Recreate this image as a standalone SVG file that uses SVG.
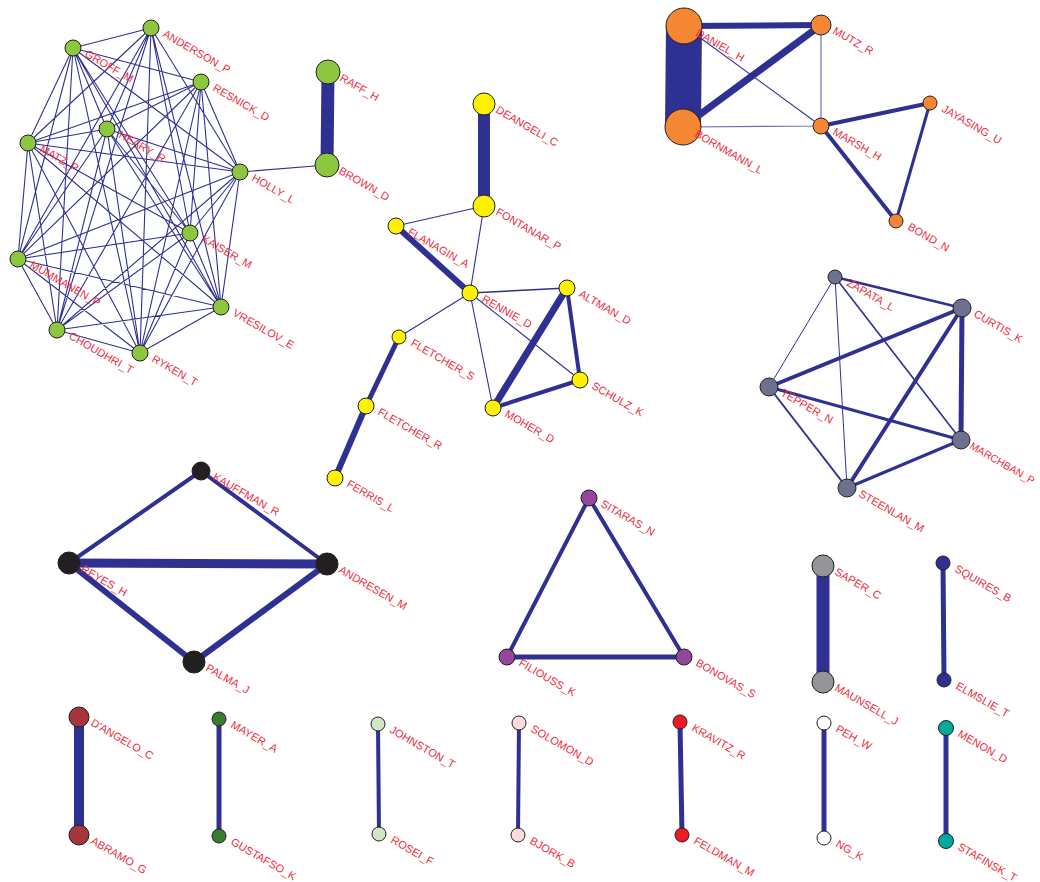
<svg xmlns="http://www.w3.org/2000/svg" width="1040" height="882" viewBox="0 0 1040 882">
<style>
.e{stroke:#2e3192;fill:none;stroke-linecap:butt}
.n{stroke:#231f20;stroke-width:1}
.t{font-family:"Liberation Sans",Arial,sans-serif;font-size:11px;fill:#ee2a3a}
.gr{fill:#8dc63f}.ye{fill:#fff200}.or{fill:#f58634}.gp{fill:#6e7090}.bk{fill:#231f20}.pu{fill:#92479b}
.gy{fill:#939598}.db{fill:#2e3192}.dr{fill:#a6353b}.dg{fill:#3a7d32}.lg{fill:#d0e6c6}.lp{fill:#fadcdc}
.rd{fill:#ed1c24}.wh{fill:#ffffff}.te{fill:#00a99d}
</style>
<rect width="1040" height="882" fill="#ffffff"/>
<g id="connectors">
<path class="e" stroke-width="1.1" d="M151 28L73 48M151 28L107 129M151 28L28 143M151 28L240 172M151 28L190 233M151 28L18 259M151 28L221 307M151 28L57 330M151 28L140 353M73 48L201 82M73 48L107 129M73 48L28 143M73 48L240 172M73 48L190 233M73 48L18 259M73 48L221 307M73 48L57 330M73 48L140 353M201 82L107 129M201 82L28 143M201 82L240 172M201 82L190 233M201 82L18 259M201 82L221 307M201 82L57 330M201 82L140 353M107 129L28 143M107 129L240 172M107 129L190 233M107 129L18 259M107 129L221 307M107 129L57 330M107 129L140 353M28 143L240 172M28 143L190 233M28 143L18 259M28 143L221 307M28 143L57 330M28 143L140 353M240 172L190 233M240 172L18 259M240 172L221 307M240 172L57 330M240 172L140 353M190 233L18 259M190 233L221 307M190 233L57 330M190 233L140 353M18 259L221 307M18 259L57 330M18 259L140 353M221 307L57 330M221 307L140 353M57 330L140 353"/>
<path class="e" stroke-width="1.1" d="M240 172L327 165"/>
<path class="e" stroke-width="13" d="M328 72L327 165"/>
<path class="e" stroke-width="12" d="M484 104L484 206"/>
<path class="e" stroke-width="1.1" d="M484 206L396 226M484 206L470 293M470 293L399 337M470 293L580 380M470 293L493 408"/>
<path class="e" stroke-width="1.6" d="M470 293L567 288"/>
<path class="e" stroke-width="6" d="M396 226L470 293"/>
<path class="e" stroke-width="7" d="M567 288L493 408"/>
<path class="e" stroke-width="4" d="M567 288L580 380M580 380L493 408"/>
<path class="e" stroke-width="5" d="M399 337L366 406"/>
<path class="e" stroke-width="6" d="M366 406L335 478"/>
<path class="e" stroke-width="36" d="M684 26L683 127"/>
<path class="e" stroke-width="6" d="M684 26L821 25"/>
<path class="e" stroke-width="7" d="M683 127L821 25"/>
<path class="e" stroke-width="1.1" d="M684 26L821 126"/>
<path class="e" stroke-width="1.2" stroke-opacity="0.7" d="M683 127L821 126M821 25L821 126"/>
<path class="e" stroke-width="4" d="M821 126L930 103M821 126L896 221"/>
<path class="e" stroke-width="3" d="M930 103L896 221"/>
<path class="e" stroke-width="2.5" d="M835 277L962 308"/>
<path class="e" stroke-width="1" d="M835 277L769 387M835 277L847 488"/>
<path class="e" stroke-width="1.6" d="M835 277L961 440"/>
<path class="e" stroke-width="4" d="M962 308L769 387M962 308L847 488"/>
<path class="e" stroke-width="5" d="M962 308L961 440"/>
<path class="e" stroke-width="3" d="M769 387L961 440M847 488L961 440"/>
<path class="e" stroke-width="2" d="M769 387L847 488"/>
<path class="e" stroke-width="9" d="M69 563L327 564"/>
<path class="e" stroke-width="4" d="M69 563L201 471M201 471L327 564"/>
<path class="e" stroke-width="6" d="M69 563L194 662M194 662L327 564"/>
<path class="e" stroke-width="4" d="M589 498L507 657M589 498L684 657"/>
<path class="e" stroke-width="5" d="M507 657L684 657"/>
<path class="e" stroke-width="13" d="M823 566L823 682"/>
<path class="e" stroke-width="5" d="M943 563L944 680"/>
<path class="e" stroke-width="10" d="M79 717L79 835"/>
<path class="e" stroke-width="5" d="M219 719L219 836"/>
<path class="e" stroke-width="4" d="M378 724L379 834"/>
<path class="e" stroke-width="4" d="M519 723L518 835"/>
<path class="e" stroke-width="5" d="M680 722L682 835"/>
<path class="e" stroke-width="5" d="M824 723L824 838"/>
<path class="e" stroke-width="5" d="M946 728L946 841"/>
</g>
<g id="n-anderson"><circle class="n gr" cx="151" cy="28" r="8"/><text class="t" transform="translate(162 36) rotate(30)">ANDERSON_P</text></g>
<g id="n-groff"><circle class="n gr" cx="73" cy="48" r="8"/><text class="t" transform="translate(84 56) rotate(30)">GROFF_M</text></g>
<g id="n-resnick"><circle class="n gr" cx="201" cy="82" r="8"/><text class="t" transform="translate(212 90) rotate(30)">RESNICK_D</text></g>
<g id="n-heary"><circle class="n gr" cx="107" cy="129" r="8"/><text class="t" transform="translate(118 137) rotate(30)">HEARY_R</text></g>
<g id="n-matz"><circle class="n gr" cx="28" cy="143" r="8"/><text class="t" transform="translate(39 151) rotate(30)">MATZ_P</text></g>
<g id="n-holly"><circle class="n gr" cx="240" cy="172" r="8"/><text class="t" transform="translate(251 180) rotate(30)">HOLLY_L</text></g>
<g id="n-kaiser"><circle class="n gr" cx="190" cy="233" r="8"/><text class="t" transform="translate(201 241) rotate(30)">KAISER_M</text></g>
<g id="n-mummanen"><circle class="n gr" cx="18" cy="259" r="8"/><text class="t" transform="translate(29 267) rotate(30)">MUMMANEN_P</text></g>
<g id="n-vresilov"><circle class="n gr" cx="221" cy="307" r="8"/><text class="t" transform="translate(232 315) rotate(30)">VRESILOV_E</text></g>
<g id="n-choudhri"><circle class="n gr" cx="57" cy="330" r="8"/><text class="t" transform="translate(68 338) rotate(30)">CHOUDHRI_T</text></g>
<g id="n-ryken"><circle class="n gr" cx="140" cy="353" r="8"/><text class="t" transform="translate(151 361) rotate(30)">RYKEN_T</text></g>
<g id="n-raff"><circle class="n gr" cx="328" cy="72" r="12"/><text class="t" transform="translate(339 80) rotate(30)">RAFF_H</text></g>
<g id="n-brown"><circle class="n gr" cx="327" cy="165" r="12"/><text class="t" transform="translate(338 173) rotate(30)">BROWN_D</text></g>
<g id="n-deangeli"><circle class="n ye" cx="484" cy="104" r="11"/><text class="t" transform="translate(495 112) rotate(30)">DEANGELI_C</text></g>
<g id="n-fontanar"><circle class="n ye" cx="484" cy="206" r="11"/><text class="t" transform="translate(495 214) rotate(30)">FONTANAR_P</text></g>
<g id="n-flanagin"><circle class="n ye" cx="396" cy="226" r="8"/><text class="t" transform="translate(407 234) rotate(30)">FLANAGIN_A</text></g>
<g id="n-rennie"><circle class="n ye" cx="470" cy="293" r="8"/><text class="t" transform="translate(481 301) rotate(30)">RENNIE_D</text></g>
<g id="n-altman"><circle class="n ye" cx="567" cy="288" r="8"/><text class="t" transform="translate(578 296) rotate(30)">ALTMAN_D</text></g>
<g id="n-fletcher-s"><circle class="n ye" cx="399" cy="337" r="7"/><text class="t" transform="translate(410 345) rotate(30)">FLETCHER_S</text></g>
<g id="n-schulz"><circle class="n ye" cx="580" cy="380" r="8"/><text class="t" transform="translate(591 388) rotate(30)">SCHULZ_K</text></g>
<g id="n-moher"><circle class="n ye" cx="493" cy="408" r="8"/><text class="t" transform="translate(504 416) rotate(30)">MOHER_D</text></g>
<g id="n-fletcher-r"><circle class="n ye" cx="366" cy="406" r="8"/><text class="t" transform="translate(377 414) rotate(30)">FLETCHER_R</text></g>
<g id="n-ferris"><circle class="n ye" cx="335" cy="478" r="8"/><text class="t" transform="translate(346 486) rotate(30)">FERRIS_L</text></g>
<g id="n-daniel"><circle class="n or" cx="684" cy="26" r="18"/><text class="t" transform="translate(695 35) rotate(30)">DANIEL_H</text></g>
<g id="n-bornmann"><circle class="n or" cx="683" cy="127" r="18"/><text class="t" transform="translate(694 136) rotate(30)">BORNMANN_L</text></g>
<g id="n-mutz"><circle class="n or" cx="821" cy="25" r="10"/><text class="t" transform="translate(832 33) rotate(30)">MUTZ_R</text></g>
<g id="n-marsh"><circle class="n or" cx="821" cy="126" r="8"/><text class="t" transform="translate(832 134) rotate(30)">MARSH_H</text></g>
<g id="n-jayasing"><circle class="n or" cx="930" cy="103" r="7"/><text class="t" transform="translate(941 111) rotate(30)">JAYASING_U</text></g>
<g id="n-bond"><circle class="n or" cx="896" cy="221" r="7"/><text class="t" transform="translate(907 229) rotate(30)">BOND_N</text></g>
<g id="n-zapata"><circle class="n gp" cx="835" cy="277" r="7"/><text class="t" transform="translate(846 285) rotate(30)">ZAPATA_L</text></g>
<g id="n-curtis"><circle class="n gp" cx="962" cy="308" r="9"/><text class="t" transform="translate(973 316) rotate(30)">CURTIS_K</text></g>
<g id="n-tepper"><circle class="n gp" cx="769" cy="387" r="9"/><text class="t" transform="translate(780 395) rotate(30)">TEPPER_N</text></g>
<g id="n-marchban"><circle class="n gp" cx="961" cy="440" r="9"/><text class="t" font-size="10.5" style="font-size:10.5px" transform="translate(969 448) rotate(30)">MARCHBAN_P</text></g>
<g id="n-steenlan"><circle class="n gp" cx="847" cy="488" r="9"/><text class="t" transform="translate(858 496) rotate(30)">STEENLAN_M</text></g>
<g id="n-kauffman"><circle class="n bk" cx="201" cy="471" r="9"/><text class="t" transform="translate(212 479) rotate(30)">KAUFFMAN_R</text></g>
<g id="n-reyes"><circle class="n bk" cx="69" cy="563" r="11"/><text class="t" transform="translate(80 571) rotate(30)">REYES_H</text></g>
<g id="n-andresen"><circle class="n bk" cx="327" cy="564" r="11"/><text class="t" transform="translate(338 572) rotate(30)">ANDRESEN_M</text></g>
<g id="n-palma"><circle class="n bk" cx="194" cy="662" r="11"/><text class="t" transform="translate(205 670) rotate(30)">PALMA_J</text></g>
<g id="n-sitaras"><circle class="n pu" cx="589" cy="498" r="8"/><text class="t" transform="translate(600 506) rotate(30)">SITARAS_N</text></g>
<g id="n-filiouss"><circle class="n pu" cx="507" cy="657" r="8"/><text class="t" transform="translate(518 665) rotate(30)">FILIOUSS_K</text></g>
<g id="n-bonovas"><circle class="n pu" cx="684" cy="657" r="8"/><text class="t" transform="translate(695 665) rotate(30)">BONOVAS_S</text></g>
<g id="n-saper"><circle class="n gy" cx="823" cy="566" r="11"/><text class="t" transform="translate(834 574) rotate(30)">SAPER_C</text></g>
<g id="n-maunsell"><circle class="n gy" cx="823" cy="682" r="11"/><text class="t" transform="translate(834 690) rotate(30)">MAUNSELL_J</text></g>
<g id="n-squires"><circle class="n db" cx="943" cy="563" r="7"/><text class="t" transform="translate(954 571) rotate(30)">SQUIRES_B</text></g>
<g id="n-elmslie"><circle class="n db" cx="944" cy="680" r="7"/><text class="t" transform="translate(955 688) rotate(30)">ELMSLIE_T</text></g>
<g id="n-dangelo"><circle class="n dr" cx="79" cy="717" r="10"/><text class="t" transform="translate(90 725) rotate(30)">D'ANGELO_C</text></g>
<g id="n-abramo"><circle class="n dr" cx="79" cy="835" r="10"/><text class="t" transform="translate(90 843) rotate(30)">ABRAMO_G</text></g>
<g id="n-mayer"><circle class="n dg" cx="219" cy="719" r="7"/><text class="t" transform="translate(230 727) rotate(30)">MAYER_A</text></g>
<g id="n-gustafso"><circle class="n dg" cx="219" cy="836" r="7"/><text class="t" transform="translate(230 844) rotate(30)">GUSTAFSO_K</text></g>
<g id="n-johnston"><circle class="n lg" cx="378" cy="724" r="7"/><text class="t" transform="translate(389 732) rotate(30)">JOHNSTON_T</text></g>
<g id="n-rosei"><circle class="n lg" cx="379" cy="834" r="7"/><text class="t" transform="translate(390 842) rotate(30)">ROSEI_F</text></g>
<g id="n-solomon"><circle class="n lp" cx="519" cy="723" r="7"/><text class="t" transform="translate(530 731) rotate(30)">SOLOMON_D</text></g>
<g id="n-bjork"><circle class="n lp" cx="518" cy="835" r="7"/><text class="t" transform="translate(529 843) rotate(30)">BJORK_B</text></g>
<g id="n-kravitz"><circle class="n rd" cx="680" cy="722" r="7"/><text class="t" transform="translate(691 730) rotate(30)">KRAVITZ_R</text></g>
<g id="n-feldman"><circle class="n rd" cx="682" cy="835" r="7"/><text class="t" transform="translate(693 843) rotate(30)">FELDMAN_M</text></g>
<g id="n-peh"><circle class="n wh" cx="824" cy="723" r="7"/><text class="t" transform="translate(835 731) rotate(30)">PEH_W</text></g>
<g id="n-ng"><circle class="n wh" cx="824" cy="838" r="7"/><text class="t" transform="translate(835 846) rotate(30)">NG_K</text></g>
<g id="n-menon"><circle class="n te" cx="946" cy="728" r="7.5"/><text class="t" transform="translate(957 736) rotate(30)">MENON_D</text></g>
<g id="n-stafinsk"><circle class="n te" cx="946" cy="841" r="7.5"/><text class="t" transform="translate(957 849) rotate(30)">STAFINSK_T</text></g>
</svg>
